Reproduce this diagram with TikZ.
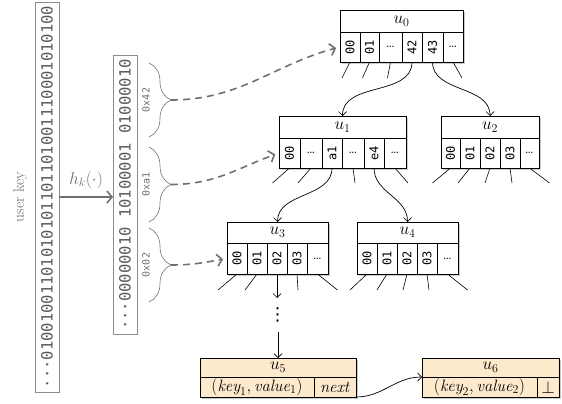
\documentclass[tikz,border=0pt]{standalone}
\usepackage{fontspec}
\setmonofont{DejaVu Sans Mono}
\newfontfamily\symfont{DejaVu Sans}
\usepackage{graphicx}
\usetikzlibrary{arrows.meta,shadows,decorations.pathreplacing}
\definecolor{keygray}{gray}{0.44}
\definecolor{boxgray}{gray}{0.55}
\definecolor{leafbg}{RGB}{253,233,204}
\newcommand{\hexc}[1]{\rotatebox{90}{\texttt{#1}}}
\newcommand{\dd}{{\rmfamily\fontsize{14}{14}\selectfont\dots}}
\newcommand{\cellrow}[4]{\foreach \cl/\cx/\cw [count=\ci] in {#4} {\node[cellbox, minimum width=\cw pt, minimum height=#3pt] (#1c\ci) at (\cx,#2) {\cl};}}
\begin{document}
\begin{tikzpicture}[x=1pt,y=-1pt,
  every node/.style={inner sep=0pt, outer sep=0pt},
  rec/.style={draw, line width=0.7pt, fill=white, anchor=north west,
    drop shadow={shadow xshift=2.2pt, shadow yshift=-2.2pt, opacity=0.4}},
  hdr/.style={draw, line width=0.7pt, anchor=north west, font=\fontsize{17}{17}\selectfont},
  cellbox/.style={draw, line width=0.7pt, anchor=north west, font=\ttfamily\fontsize{12}{12}\selectfont},
  leafcell/.style={draw, line width=0.7pt, anchor=north west, font=\fontsize{16.5}{16.5}\selectfont},
  stub/.style={line width=0.6pt},
  link/.style={line width=0.7pt, -{Straight Barb[length=4pt,width=8pt]}},
  keytext/.style={draw=boxgray, line width=0.8pt, rotate=90, minimum height=24pt, text=black!65,
    font=\ttfamily\fontsize{15.5}{15.5}\selectfont},
  keyarrow/.style={draw=keygray, line width=1.6pt, -{Straight Barb[length=5pt,width=12pt]}},
  dasharrow/.style={draw=keygray, line width=1.6pt, dash pattern=on 7pt off 5pt,
    -{Straight Barb[length=5pt,width=12pt]}, shorten >=4pt},
  bracestyle/.style={draw=keygray, line width=0.6pt, decorate, decoration={brace, amplitude=22pt}},
  bracelabel/.style={rotate=90, text=keygray, font=\ttfamily\fontsize{10}{10}\selectfont}
]
\useasboundingbox (0,0) rectangle (562,404);

% keys
\node[keytext, minimum width=390pt] (uk) at (47,197) {···01001001101010101101101001110001010100};
\node[rotate=90, text=keygray, font=\fontsize{15.5}{15.5}\selectfont] (ukl) at (20,197) {user key};
\node[keytext, minimum width=279pt] (hk) at (125,194.5) {···00000010 10100001 01000010};
\draw[keyarrow] (uk.south) -- (uk.south -| hk.north);
\node[text=keygray, font=\fontsize{18}{18}\selectfont] (hkl) at (86,180) {$h_k(\cdot)$};

% braces
\draw[bracestyle] (149,63) -- (149,137);
\draw[bracestyle] (149,147) -- (149,222);
\draw[bracestyle] (149,228) -- (149,302);
\node[bracelabel] (l1) at (146,100) {0x42};
\node[bracelabel] (l2) at (146,184.5) {0xa1};
\node[bracelabel] (l3) at (146,265) {0x02};
\coordinate (t1) at (171,100);
\coordinate (t2) at (171,184.5);
\coordinate (t3) at (171,265);

% u0
\node[rec, minimum width=123pt, minimum height=52pt] (u0) at (340,10) {};
\node[hdr, minimum width=123pt, minimum height=22pt] (u0h) at (340,10) {$u_0$};
\cellrow{u0}{32}{30}{\hexc{00}/340/20, \hexc{01}/360/19, \dd/379/23, \hexc{42}/402/20, \hexc{43}/422/21, \dd/443/20}

% u1
\node[rec, minimum width=127pt, minimum height=52pt] (u1) at (279,116) {};
\node[hdr, minimum width=127pt, minimum height=22pt] (u1h) at (279,116) {$u_1$};
\cellrow{u1}{138}{30}{\hexc{00}/279/21, \dd/300/22, \hexc{a1}/322/20, \dd/342/22, \hexc{e4}/364/20, \dd/384/22}

% u2
\node[rec, minimum width=98pt, minimum height=52pt] (u2) at (441,116) {};
\node[hdr, minimum width=98pt, minimum height=22pt] (u2h) at (441,116) {$u_2$};
\cellrow{u2}{138}{30}{\hexc{00}/441/19, \hexc{01}/460/20, \hexc{02}/480/20, \hexc{03}/500/20, \dd/520/19}

% u3
\node[rec, minimum width=101pt, minimum height=52pt] (u3) at (227,222) {};
\node[hdr, minimum width=101pt, minimum height=21pt] (u3h) at (227,222) {$u_3$};
\cellrow{u3}{243}{31}{\hexc{00}/227/20, \hexc{01}/247/20, \hexc{02}/267/20, \hexc{03}/287/20, \dd/307/21}

% u4
\node[rec, minimum width=101pt, minimum height=52pt] (u4) at (357,222) {};
\node[hdr, minimum width=101pt, minimum height=21pt] (u4h) at (357,222) {$u_4$};
\cellrow{u4}{243}{31}{\hexc{00}/357/20, \hexc{01}/377/20, \hexc{02}/397/20, \hexc{03}/417/20, \dd/437/21}

% u5
\node[rec, fill=leafbg, minimum width=156pt, minimum height=39pt] (u5) at (200,358) {};
\node[hdr, minimum width=156pt, minimum height=19pt] (u5h) at (200,358) {$u_5$};
\node[leafcell, minimum width=114pt, minimum height=20pt] (u5c1) at (200,377) {$(\mathit{key}_1, \mathit{value}_1)$};
\node[leafcell, minimum width=42pt, minimum height=20pt] (u5c2) at (314,377) {\textit{next}};

% u6
\node[rec, fill=leafbg, minimum width=137pt, minimum height=39pt] (u6) at (422,358) {};
\node[hdr, minimum width=137pt, minimum height=19pt] (u6h) at (422,358) {$u_6$};
\node[leafcell, minimum width=115pt, minimum height=20pt] (u6c1) at (422,377) {$(\mathit{key}_2, \mathit{value}_2)$};
\node[leafcell, minimum width=22pt, minimum height=20pt] (u6c2) at (537,377) {$\bot$};

% dashed pointers
\draw[dasharrow] (t1) to[out=0,in=195] (u0c1.west);
\draw[dasharrow] (t2) to[out=0,in=200] (u1c1.west);
\draw[dasharrow] (t3) to[out=0,in=190] (u3c1.west);

% tree links
\draw[link] (u0c4.south) to[out=-90,in=90] (u1.north);
\draw[link] (u0c5.south) to[out=-90,in=90] (u2.north);
\draw[link] (u1c3.south) to[out=-90,in=90] (u3.north);
\draw[link] (u1c5.south) to[out=-90,in=90] (u4.north);
\coordinate (d1) at (277,298);
\node[font=\symfont\fontsize{18}{18}\selectfont] (vd) at (277.5,315) {⋮};
\coordinate (d2) at (278,332);
\draw[link] (u3c3.south) -- (u3c3.south |- d1);
\draw[link] (d2) -- (u5.north);
\draw[link] (u5c2.south east) to[out=0,in=180] (u6c1.north west);

% stubs
\draw[stub] (u0c1.south) -- ++(-8,16);
\draw[stub] (u0c2.south) -- ++(-7,16);
\draw[stub] (u0c3.south) -- ++(-3,16);
\draw[stub] (u0c6.south) -- ++(9,16);
\draw[stub] (u1c1.south) -- ++(-17,15);
\draw[stub] (u1c2.south) -- ++(-13,15);
\draw[stub] (u1c4.south) -- ++(2,15);
\draw[stub] (u1c6.south) -- ++(13,15);
\draw[stub] (u2c1.south) -- ++(-18,15);
\draw[stub] (u2c2.south) -- ++(-12,15);
\draw[stub] (u2c3.south) -- ++(-5,15);
\draw[stub] (u2c4.south) -- ++(2,15);
\draw[stub] (u2c5.south) -- ++(20,15);
\draw[stub] (u3c1.south) -- ++(-19,16);
\draw[stub] (u3c2.south) -- ++(-12,16);
\draw[stub] (u3c4.south) -- ++(1,16);
\draw[stub] (u3c5.south) -- ++(20,16);
\draw[stub] (u4c1.south) -- ++(-17,16);
\draw[stub] (u4c2.south) -- ++(-10,16);
\draw[stub] (u4c3.south) -- ++(-4,16);
\draw[stub] (u4c4.south) -- ++(2,16);
\draw[stub] (u4c5.south) -- ++(20,16);
\end{tikzpicture}
\end{document}
